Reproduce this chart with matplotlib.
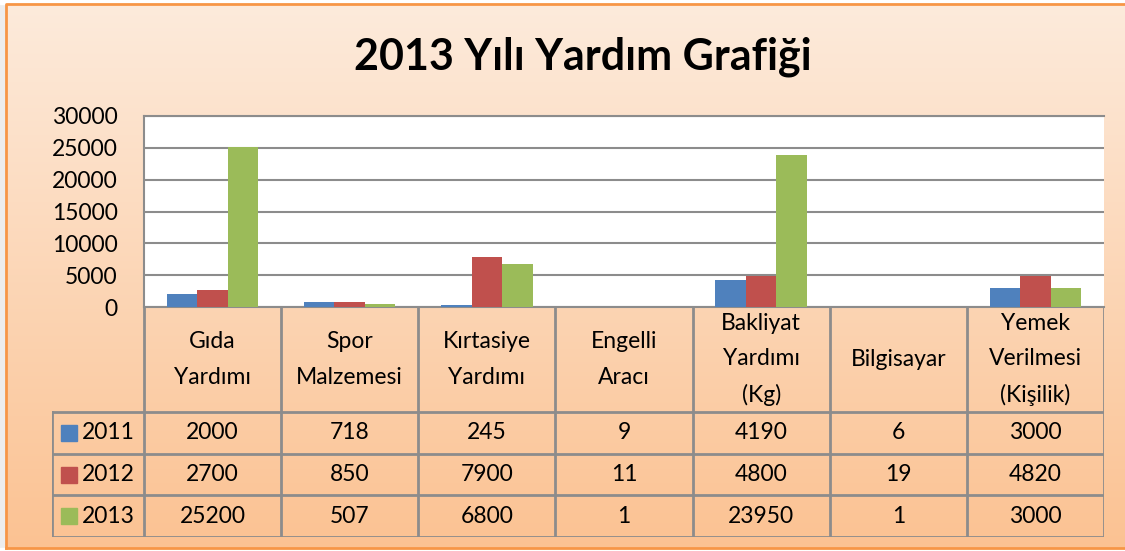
import matplotlib.pyplot as plt
import numpy as np
from matplotlib.patches import Rectangle

# Datos del gráfico
categorias = ["Gıda\nYardımı", "Spor\nMalzemesi", "Kırtasiye\nYardımı", "Engelli\nAracı",
              "Bakliyat\nYardımı\n(Kg)", "Bilgisayar", "Yemek\nVerilmesi\n(Kişilik)"]
anios = ["2011", "2012", "2013"]
valores_2011 = [2000, 718, 245, 9, 4190, 6, 3000]
valores_2012 = [2700, 850, 7900, 11, 4800, 19, 4820]
valores_2013 = [25200, 507, 6800, 1, 23950, 1, 3000]
y_ticks = [0, 5000, 10000, 15000, 20000, 25000, 30000]

series = [valores_2011, valores_2012, valores_2013]
colores = ["#4F81BD", "#C0504D", "#9BBB59"]
gris = "#8C8C8C"
fs = 16.5

plt.rcParams["font.family"] = ["Lato", "DejaVu Sans"]

W, H = 1125, 551
fig = plt.figure(figsize=(W / 100, H / 100), dpi=100)


def fx(px):
    return px / W


def fy(py):
    return 1 - py / H


# Fondo degradado
fondo = fig.add_axes([0, 0, 1, 1], zorder=-10)
top_c = np.array([253, 235, 220]) / 255
bot_c = np.array([251, 194, 146]) / 255
t = np.linspace(0, 1, 256)[:, None]
grad = (top_c[None, :] * (1 - t) + bot_c[None, :] * t)[:, None, :]
fondo.imshow(grad, aspect="auto", extent=[0, 1, 0, 1], origin="upper")
fondo.add_patch(Rectangle((fx(0), 0), fx(6), 1, color="#EDEDED", zorder=2))
fondo.add_patch(Rectangle((0, fy(551)), 1, fy(548) - fy(551), color="white", zorder=2))
fondo.add_patch(Rectangle((0, fy(4)), 1, 1 - fy(4), color="white", zorder=2))
fondo.plot([fx(6), fx(6), 1], [fy(548), fy(4), fy(4)], color="#F79646", lw=2, zorder=3)
fondo.plot([fx(6), 1], [fy(548), fy(548)], color="#F79646", lw=2, zorder=3)
fondo.set_xlim(0, 1)
fondo.set_ylim(0, 1)
fondo.axis("off")

# Título
fig.text(fx(583), fy(57), "2013 Yılı Yardım Grafiği", ha="center", va="center",
         fontsize=31, fontweight="bold", color="black")

# Área de barras
left, right, top, bottom = 144, 1104, 116, 307
ax = fig.add_axes([fx(left), fy(bottom), fx(right - left), fy(top) - fy(bottom)])
ax.set_facecolor("white")
x = np.arange(len(categorias))
ancho = 0.222
for i, (vals, col) in enumerate(zip(series, colores)):
    ax.bar(x + (i - 1) * ancho, vals, width=ancho, color=col, zorder=3)
ax.set_xlim(-0.5, len(categorias) - 0.5)
ax.set_ylim(0, 30000)
ax.set_yticks(y_ticks)
ax.set_yticklabels([str(v) for v in y_ticks], fontsize=fs)
ax.tick_params(axis="y", length=0, pad=19)
ax.set_xticks([])
ax.grid(axis="y", color=gris, lw=1.5, zorder=1)
ax.spines["right"].set_visible(False)
for s in ["top", "left", "bottom"]:
    ax.spines[s].set_color(gris)
    ax.spines[s].set_linewidth(1.5)

# Tabla de datos
t_left, t_top, t_bottom = 52, 307, 537
header_h = 105
row_h = (t_bottom - t_top - header_h) / len(anios)
cat_w = (right - left) / len(categorias)
leg_w = (left - t_left) / cat_w
tax = fig.add_axes([fx(t_left), fy(t_bottom), fx(right - t_left), fy(t_top) - fy(t_bottom)])
tax.set_xlim(-0.5 - leg_w, len(categorias) - 0.5)
tax.set_ylim(0, t_bottom - t_top)
tax.axis("off")
tax.patch.set_alpha(0)

y_header = len(anios) * row_h
lw = 2
# Líneas horizontales
for k in range(len(anios) + 1):
    tax.plot([-0.5 - leg_w, len(categorias) - 0.5], [k * row_h, k * row_h], color=gris, lw=lw)
# Líneas verticales
for j in range(len(categorias) + 1):
    tax.plot([j - 0.5, j - 0.5], [0, t_bottom - t_top], color=gris, lw=lw)
tax.plot([-0.5 - leg_w, -0.5 - leg_w], [0, y_header], color=gris, lw=lw)

# Encabezados de categoría
for j, cat in enumerate(categorias):
    tax.text(j, y_header + header_h / 2, cat, ha="center", va="center",
             fontsize=fs, linespacing=1.85)

# Filas de valores
for k, (anio, vals, col) in enumerate(zip(anios, series, colores)):
    yc = y_header - (k + 0.5) * row_h
    tax.add_patch(Rectangle((-0.5 - leg_w + 0.065, yc - 8), 0.117, 16, color=col))
    tax.text(-0.5 - leg_w + 0.22, yc, anio, ha="left", va="center", fontsize=fs)
    for j, v in enumerate(vals):
        tax.text(j, yc, str(v), ha="center", va="center", fontsize=fs)

plt.savefig("out.png", dpi=100)
plt.close()
